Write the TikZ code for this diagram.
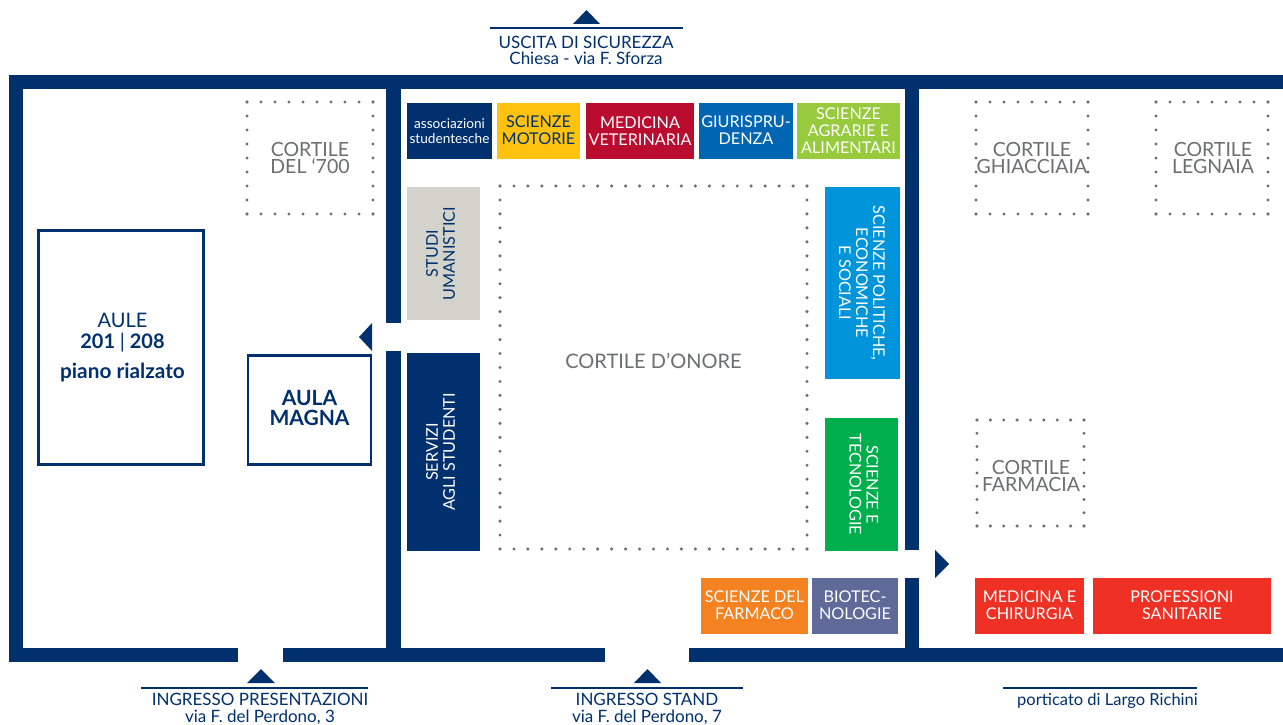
\documentclass[tikz,border=0pt]{standalone}
\usepackage{fontspec}
\setmainfont{Lato}
\definecolor{navy}{HTML}{00306E}
\definecolor{dotgray}{HTML}{6D6E71}
\definecolor{cortilegray}{HTML}{6D6E71}
\definecolor{cyellow}{HTML}{FFC20E}
\definecolor{ccrimson}{HTML}{BA0C2F}
\definecolor{cblue}{HTML}{0066B3}
\definecolor{clime}{HTML}{97CA3D}
\definecolor{cstone}{HTML}{D3D3CB}
\definecolor{csky}{HTML}{0095DA}
\definecolor{cgreen}{HTML}{00AE4D}
\definecolor{corange}{HTML}{F58220}
\definecolor{cslate}{HTML}{5F6A98}
\definecolor{cred}{HTML}{EF3024}
\newcommand{\dotrect}[6]{%
  \foreach \i in {0,...,#5} {
    \fill[dotgray] ({#1+(#3-#1)*\i/#5},#2) circle (1.7);
    \fill[dotgray] ({#1+(#3-#1)*\i/#5},#4) circle (1.7);
  }
  \foreach \i in {0,...,#6} {
    \fill[dotgray] (#1,{#2+(#4-#2)*\i/#6}) circle (1.7);
    \fill[dotgray] (#3,{#2+(#4-#2)*\i/#6}) circle (1.7);
  }
}
\tikzset{
  wall/.style={fill=navy,draw=none},
  room/.style={draw=none,inner sep=0pt,align=center,text=white,font=\fontsize{16.2}{17}\selectfont},
  roomtext/.style={inner sep=0pt,align=center,text=white,font=\fontsize{16.2}{17}\selectfont},
  hall/.style={draw=navy,line width=2.4pt,fill=white,inner sep=0pt,align=center,text=navy},
  cortile/.style={inner sep=0pt,align=center,text=cortilegray,font=\fontsize{19.5}{17}\selectfont},
  sign/.style={inner sep=0pt,align=center,text=navy,font=\fontsize{17}{16.5}\selectfont},
  rule/.style={draw=navy,line width=2pt},
  pointer/.style={fill=navy,draw=none}
}
\begin{document}
\begin{tikzpicture}[x=1pt,y=-1pt]
\useasboundingbox (0,0) rectangle (1283,725);
\fill[white] (0,0) rectangle (1283,725);
% walls
\path[wall] (9,75) rectangle (1283,89);
\path[wall] (9,75) rectangle (23,662);
\path[wall] (9,648) rectangle (238,662);
\path[wall] (283,648) rectangle (605,662);
\path[wall] (689,648) rectangle (1283,662);
\path[wall] (386,75) rectangle (401,323);
\path[wall] (386,351) rectangle (401,662);
\path[wall] (905,75) rectangle (919,550);
\path[wall] (905,578) rectangle (919,662);
% courtyards
\dotrect{247}{102}{373}{214}{9}{8}
\dotrect{976}{102}{1088}{214}{8}{8}
\dotrect{1156}{102}{1268}{214}{8}{8}
\dotrect{977}{420}{1084}{526}{8}{8}
\dotrect{500}{186}{807}{549}{22}{26}
\node[cortile] (c700) at (310,158.2) {CORTILE\\DEL ‘700};
\node[cortile] (cghi) at (1032,158.2) {CORTILE\\GHIACCIAIA};
\node[cortile] (cleg) at (1213,158.2) {CORTILE\\LEGNAIA};
\node[cortile] (cfar) at (1031,476.2) {CORTILE\\FARMACIA};
\node[cortile,font=\fontsize{20}{17}\selectfont] (cono) at (653.5,361) {CORTILE D’ONORE};
% top row
\node[room,fill=navy,minimum width=85pt,minimum height=56pt,font=\fontsize{13.6}{15}\selectfont] (assoc) at (449.5,131) {associazioni\\studentesche};
\node[room,fill=cyellow,text=navy,minimum width=83pt,minimum height=56pt] (motorie) at (538.5,130.5) {SCIENZE\\MOTORIE};
\node[room,fill=ccrimson,minimum width=108pt,minimum height=56pt] (vet) at (640,131) {MEDICINA\\VETERINARIA};
\node[room,fill=cblue,minimum width=94pt,minimum height=56pt] (giur) at (746,130.5) {GIURISPRU-\\DENZA};
\node[room,fill=clime,minimum width=103pt,minimum height=56pt] (agr) at (848.5,131) {SCIENZE\\AGRARIE E\\ALIMENTARI};
% side columns
\node[room,fill=cstone,minimum width=73pt,minimum height=133pt] (umani) at (443.5,253.5) {};
\node[roomtext,text=navy,rotate=90] (umanitxt) at (440.5,253.5) {STUDI\\UMANISTICI};
\node[room,fill=navy,minimum width=73pt,minimum height=198pt] (serv) at (443.5,452) {};
\node[roomtext,rotate=90] (servtxt) at (440.5,452) {SERVIZI\\AGLI STUDENTI};
\node[room,fill=csky,minimum width=75pt,minimum height=192pt] (pol) at (862.5,283) {};
\node[roomtext,rotate=-90] (poltxt) at (862,283) {SCIENZE POLITICHE,\\ECONOMICHE\\E SOCIALI};
\node[room,fill=cgreen,minimum width=73pt,minimum height=133pt] (tec) at (861.5,484.5) {};
\node[roomtext,rotate=-90] (tectxt) at (864,484.5) {SCIENZE E\\TECNOLOGIE};
% bottom row
\node[room,fill=corange,minimum width=107pt,minimum height=56pt] (far) at (754.5,605.5) {SCIENZE DEL\\FARMACO};
\node[room,fill=cslate,minimum width=86pt,minimum height=56pt] (bio) at (855,605.5) {BIOTEC-\\NOLOGIE};
\node[room,fill=cred,minimum width=109pt,minimum height=56pt] (med) at (1029.5,605.5) {MEDICINA E\\CHIRURGIA};
\node[room,fill=cred,minimum width=178pt,minimum height=56pt] (prof) at (1182,605.5) {PROFESSIONI\\SANITARIE};
% halls
\node[hall,minimum width=165pt,minimum height=234pt] (aule) at (121,347.5) {};
\node[inner sep=0pt,align=center,text=navy,font=\fontsize{20}{21}\selectfont] (auletxt) at (122.5,333) {AULE\\\textbf{201 {\normalfont|} 208}};
\node[inner sep=0pt,text=navy,font=\bfseries\fontsize{20.8}{20}\selectfont] (piano) at (122.5,372.5) {piano rialzato};
\node[hall,minimum width=123pt,minimum height=109pt,font=\bfseries\fontsize{21}{19}\selectfont] (magna) at (309.5,410) {\raisebox{4pt}{AULA}\\\raisebox{4pt}{MAGNA}};
% pointers
\path[pointer] (573,24) -- (600,24) -- (586.5,10) -- cycle;
\path[pointer] (372,323) -- (372,351) -- (359,337) -- cycle;
\path[pointer] (935,550) -- (935,578) -- (949,564) -- cycle;
\path[pointer] (247,683) -- (275,683) -- (261,669) -- cycle;
\path[pointer] (634,683) -- (661,683) -- (647.5,669) -- cycle;
% signs
\coordinate (r1a) at (490,28.5); \coordinate (r1b) at (683,28.5);
\coordinate (r2a) at (141,688); \coordinate (r2b) at (368,688);
\coordinate (r3a) at (551,688); \coordinate (r3b) at (743,688);
\coordinate (r4a) at (1003,688); \coordinate (r4b) at (1197,688);
\draw[rule] (r1a) -- (r1b);
\draw[rule] (r2a) -- (r2b);
\draw[rule] (r3a) -- (r3b);
\draw[rule] (r4a) -- (r4b);
\node[sign] (s1) at (586,50.5) {USCITA DI SICUREZZA\\Chiesa - via F. Sforza};
\node[sign] (s2) at (260,709) {INGRESSO PRESENTAZIONI\\via F. del Perdono, 3};
\node[sign] (s3) at (647,709) {INGRESSO STAND\\via F. del Perdono, 7};
\node[sign,font=\fontsize{16.5}{16.5}\selectfont] (s4) at (1107.5,701) {porticato di Largo Richini};
\end{tikzpicture}
\end{document}
